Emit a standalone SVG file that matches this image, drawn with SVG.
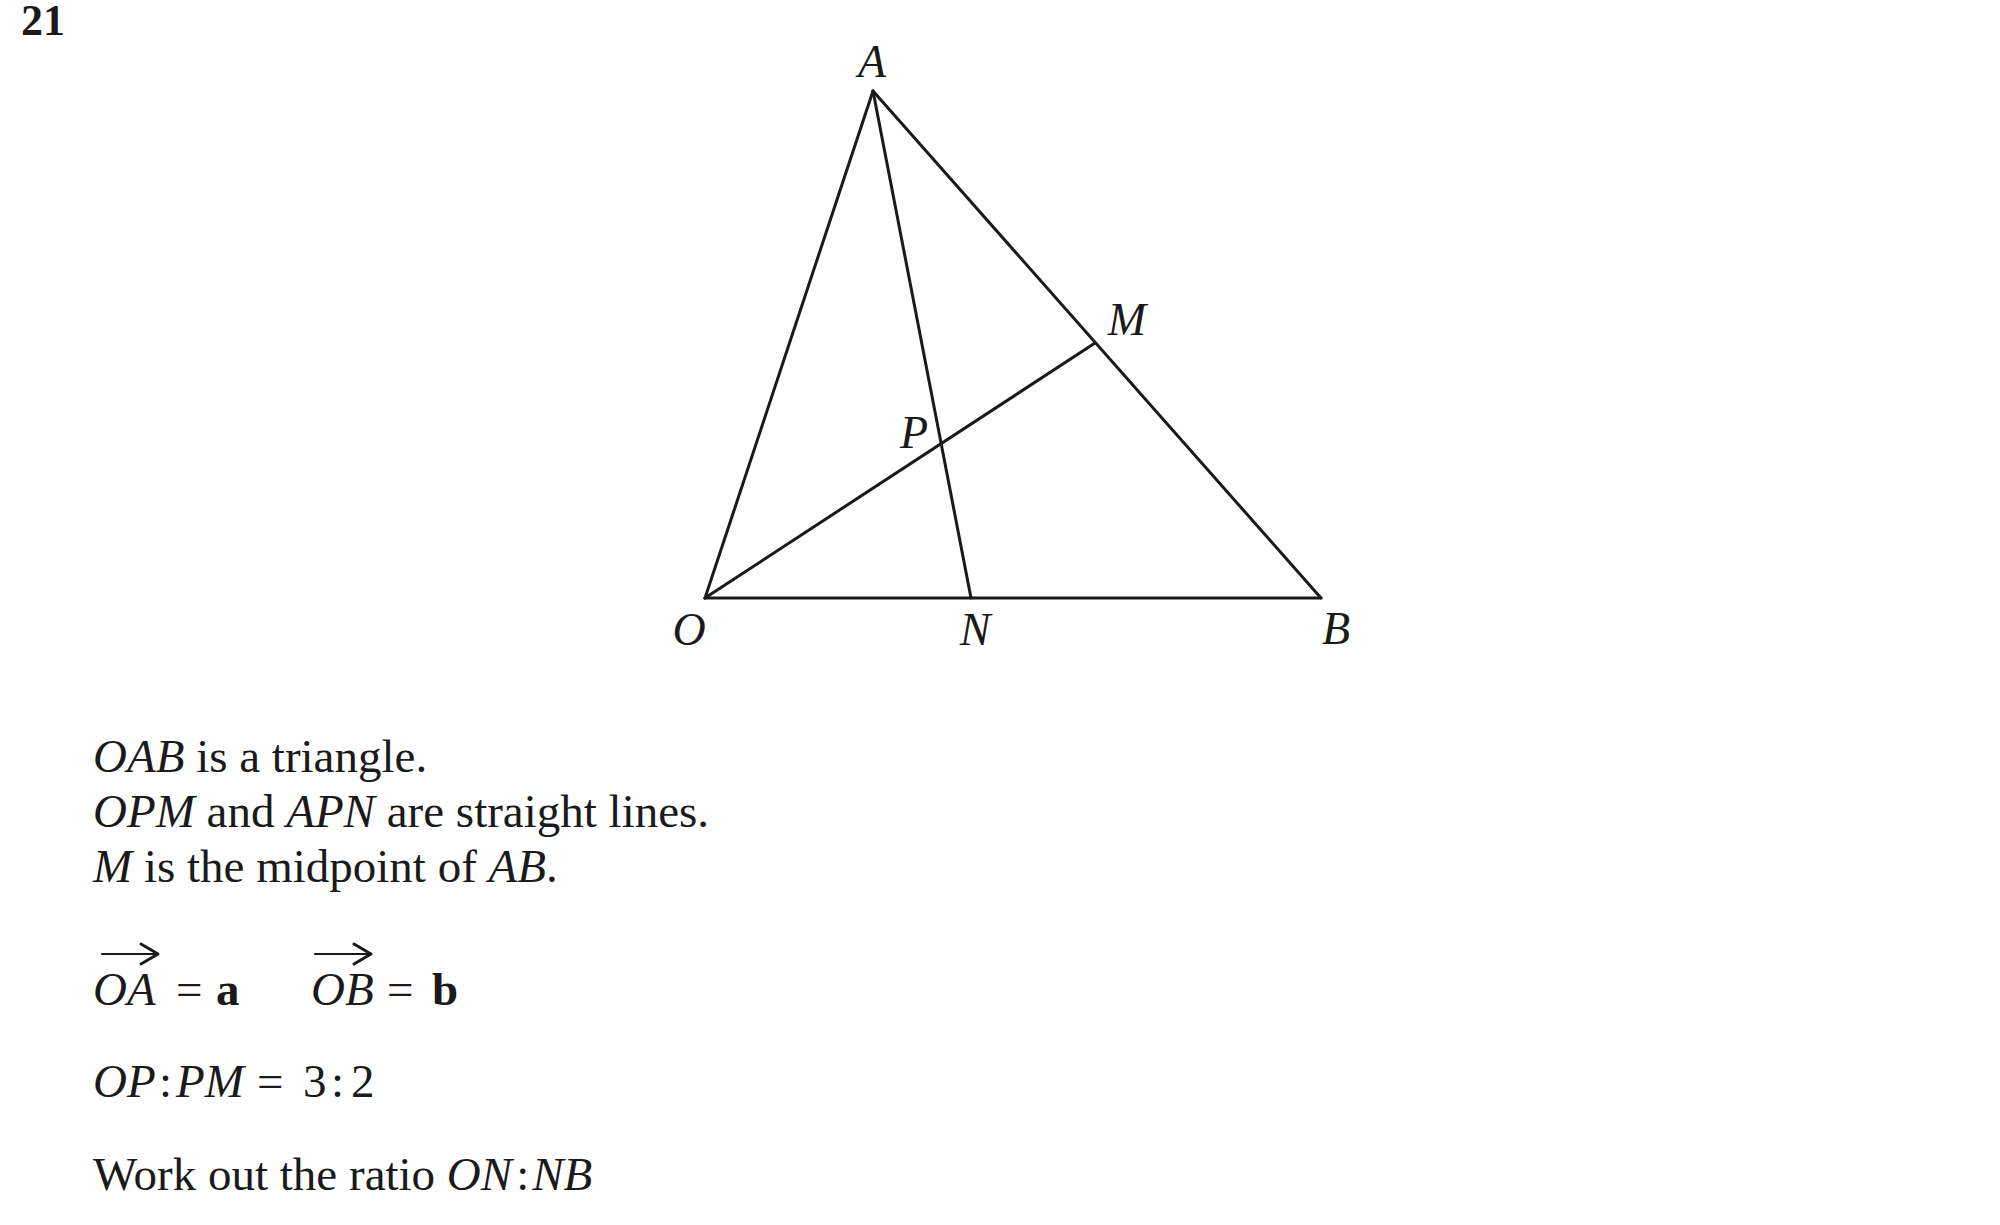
<svg xmlns="http://www.w3.org/2000/svg" width="2000" height="1225" viewBox="0 0 2000 1225">
<style>
text{font-family:"Liberation Serif","Times New Roman",serif;font-size:47px;fill:#1a1a1a}
.i{font-style:italic}
.b{font-weight:bold}
.lbl{font-style:italic;text-anchor:middle;font-size:46px}
.ln{stroke:#1a1a1a;stroke-width:3;fill:none;stroke-linecap:round;stroke-linejoin:miter}
.arr{stroke:#1a1a1a;fill:none;stroke-linecap:round;stroke-linejoin:round}
</style>
<rect width="2000" height="1225" fill="#ffffff"/>
<text id="qnum" class="b" x="21" y="35" style="font-size:44px">21</text>
<g id="connectors">
<line class="ln" x1="705" y1="598" x2="873" y2="91"/>
<line class="ln" x1="873" y1="91" x2="1321" y2="598"/>
<line class="ln" x1="705" y1="598" x2="1321" y2="598"/>
<line class="ln" x1="705" y1="598" x2="1095" y2="343"/>
<line class="ln" x1="873" y1="91" x2="971" y2="598"/>
</g>
<g id="node-A"><text class="lbl" x="872" y="77">A</text></g>
<g id="node-O"><text class="lbl" x="689" y="645">O</text></g>
<g id="node-N"><text class="lbl" x="975" y="645">N</text></g>
<g id="node-B"><text class="lbl" x="1336" y="644">B</text></g>
<g id="node-M"><text class="lbl" x="1127" y="335">M</text></g>
<g id="node-P"><text class="lbl" x="914" y="448">P</text></g>
<g id="statement">
<text x="93" y="772"><tspan class="i">OAB</tspan> is a triangle.</text>
<text x="93" y="827"><tspan class="i">OPM</tspan> and <tspan class="i">APN</tspan> are straight lines.</text>
<text x="93" y="882"><tspan class="i">M</tspan> is the midpoint of <tspan class="i">AB</tspan>.</text>
</g>
<g id="vectors">
<path class="arr" d="M102 954 H156" stroke-width="2.2"/>
<path class="arr" d="M141 944 L158 954 L141 964" stroke-width="3"/>
<path class="arr" d="M315 954 H369" stroke-width="2.2"/>
<path class="arr" d="M354 944 L371 954 L354 964" stroke-width="3"/>
<text x="93" y="1005" class="i">OA</text>
<text x="176" y="1005">=</text>
<text x="216" y="1005" class="b">a</text>
<text x="311" y="1005" class="i">OB</text>
<text x="387" y="1005">=</text>
<text x="432" y="1005" class="b">b</text>
</g>
<g id="ratio">
<text x="93" y="1097" class="i">OP</text>
<text x="159" y="1097">:</text>
<text x="176" y="1097" class="i">PM</text>
<text x="257" y="1097">=</text>
<text x="303" y="1097">3</text>
<text x="331" y="1097">:</text>
<text x="351" y="1097">2</text>
</g>
<g id="question">
<text x="93" y="1190">Work out the ratio <tspan class="i">ON</tspan><tspan dx="4">:</tspan><tspan class="i" dx="3">NB</tspan></text>
</g>
</svg>
